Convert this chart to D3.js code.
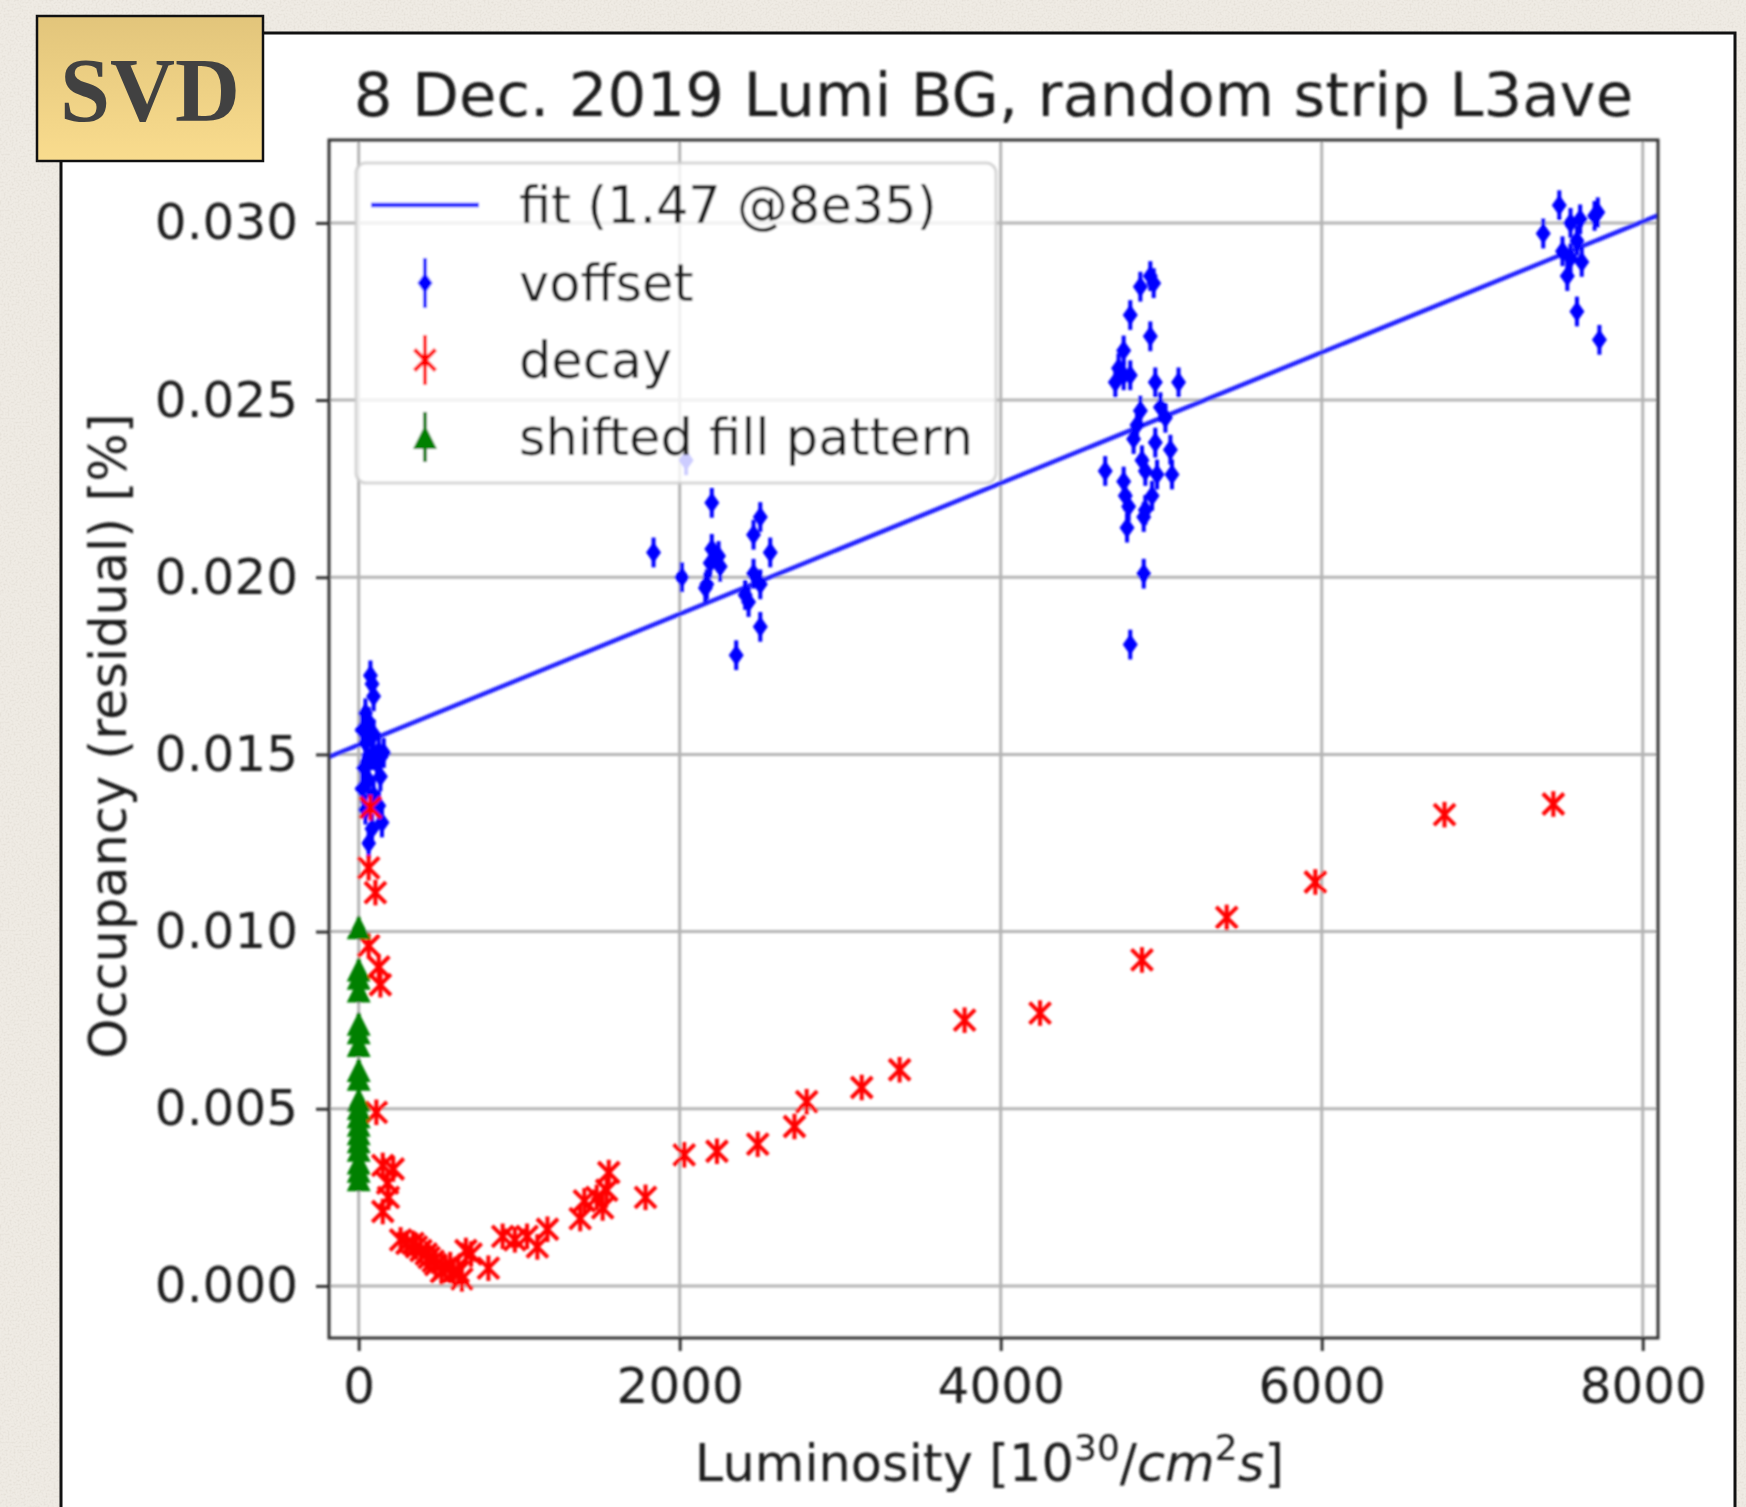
<!DOCTYPE html>
<html>
<head>
<meta charset="utf-8">
<script src="https://cdn.jsdelivr.net/npm/d3@7"></script>
<style>
  html, body { margin: 0; padding: 0; background: #efebe4; }
  svg { display: block; }
</style>
</head>
<body>
<svg id="slide" width="1746" height="1507"></svg>
<script>
// ---- axis setup ----
const xTicks = [0, 2000, 4000, 6000, 8000];
const yTicks = [0.000, 0.005, 0.010, 0.015, 0.020, 0.025, 0.030];
const xDomain = [-185, 8095];
const yDomain = [-0.00147, 0.03234];

// ---- linear fit of the voffset series ----
const fitIntercept = 0.01527;
const fitSlope = 1.846e-6;
const fitLabel = "fit (1.47 @8e35)";

// ---- voffset (blue) ----
const voffsetLumi = [
  73, 83, 93, 42, 62, 21, 93, 42, 156, 83, 114, 31, 135, 62, 21, 93, 125, 42, 145, 83, 62, 125, 52,
  1837, 2013, 2040, 2200, 2200, 2242, 2190, 2252, 2169, 2160, 2502, 2460, 2564, 2460, 2502, 2408, 2429, 2502, 2352,
  4870, 4932, 4953, 4807, 4932, 4766, 4734, 4766, 4807, 4714, 4963, 5108, 4870, 4995, 5026, 4849, 4828, 4963,
  5057, 4651, 4880, 4901, 4974, 5067, 4766, 4776, 4943, 4797, 4901, 4787, 4891, 4891, 4807,
  7380, 7480, 7550, 7610, 7700, 7720, 7590, 7550, 7620, 7530, 7590, 7730, 7500
];
const voffsetOcc = [
  0.01723, 0.01699, 0.01664, 0.01616, 0.01592, 0.01569, 0.01557, 0.01533, 0.01504, 0.01498, 0.01474, 0.01462,
  0.01438, 0.01427, 0.01403, 0.01385, 0.01355, 0.01344, 0.01308, 0.01290, 0.01249, 0.01509, 0.01480,
  0.0207, 0.0200, 0.0233, 0.0221, 0.0208, 0.0206, 0.0204, 0.0203, 0.0198, 0.0197, 0.0217, 0.0212, 0.0207,
  0.0201, 0.0198, 0.0195, 0.0193, 0.0186, 0.0178,
  0.0282, 0.0285, 0.0283, 0.0274, 0.0268, 0.0264, 0.0259, 0.0257, 0.0257, 0.0255, 0.0255, 0.0255, 0.0247,
  0.0248, 0.0245, 0.0243, 0.0239, 0.0238, 0.0236, 0.0230, 0.0233, 0.0230, 0.0229, 0.0229, 0.0227, 0.0223,
  0.0223, 0.0220, 0.0219, 0.0214, 0.0217, 0.0201, 0.0181,
  0.0297, 0.0305, 0.0300, 0.0301, 0.0302, 0.0303, 0.0295, 0.0290, 0.0289, 0.0285, 0.0275, 0.0267, 0.0292
];
const voffsetErr = 0.00042;

// ---- decay (red) ----
const decayLumi = [
  73, 62, 104, 62, 125, 135, 110, 150, 215, 180, 185, 150,
  261, 300, 338, 360, 388, 420, 439, 464, 480, 515, 541, 570, 592, 620, 643, 668, 700, 808,
  897, 973, 1049, 1113, 1176, 1380, 1406, 1483, 1520, 1545, 1558, 1787,
  2028, 2232, 2486, 2715, 2791, 3134, 3370, 3775, 4245, 4880, 5408, 5960, 6765, 7443
];
const decayOcc = [
  0.0135, 0.0118, 0.0111, 0.0096, 0.0090, 0.0085, 0.0049, 0.0034, 0.0033, 0.0029, 0.0025, 0.0021,
  0.0013, 0.0012, 0.0012, 0.0011, 0.0010, 0.0009, 0.0008, 0.0007, 0.0006, 0.0004, 0.0005, 0.0006, 0.0004,
  0.0004, 0.0002, 0.0010, 0.0009, 0.0005,
  0.0014, 0.0013, 0.0014, 0.0011, 0.0016, 0.0019, 0.0024, 0.0025, 0.0022, 0.0027, 0.0032, 0.0025,
  0.0037, 0.0038, 0.0040, 0.0045, 0.0052, 0.0056, 0.0061, 0.0075, 0.0077, 0.0092, 0.0104, 0.0114, 0.0133, 0.0136
];
const decayErr = 0.00036;

// ---- shifted fill pattern (green) ----
const fillLumi = [0, 0, 0, 0, 0, 0, 0, 0, 0, 0, 0, 0, 0, 0, 0, 0, 0, 0, 0];
const fillOcc = [
  0.01012, 0.00893, 0.00870, 0.00834, 0.00740, 0.00716, 0.00680, 0.00609, 0.00585, 0.00526,
  0.00502, 0.00479, 0.00455, 0.00431, 0.00408, 0.00384, 0.00348, 0.00325, 0.00301
];
const fillErr = 0.0003;

const seriesNames = ["voffset", "decay", "shifted fill pattern"];

// ---- page ----
const W = 1746, H = 1507;
const svg = d3.select("#slide");
const defs = svg.append("defs");

// paper texture for the slide background
const paper = defs.append("filter").attr("id", "paper").attr("x", 0).attr("y", 0)
  .attr("width", "100%").attr("height", "100%");
paper.append("feTurbulence").attr("type", "fractalNoise").attr("baseFrequency", 0.5)
  .attr("numOctaves", 3).attr("seed", 7).attr("result", "noise");
paper.append("feColorMatrix").attr("type", "matrix")
  .attr("values", "0 0 0 0 0.45  0 0 0 0 0.40  0 0 0 0 0.33  0 0 0 -1.6 0.9");

// slight softening of the plot graphics
const soft = defs.append("filter").attr("id", "soft");
soft.append("feGaussianBlur").attr("stdDeviation", 0.8);

const badge = defs.append("linearGradient").attr("id", "badge")
  .attr("x1", 0).attr("y1", 0).attr("x2", 0).attr("y2", 1);
badge.append("stop").attr("offset", "0%").attr("stop-color", "#e2c57b");
badge.append("stop").attr("offset", "100%").attr("stop-color", "#f9dc8e");

svg.append("rect").attr("width", W).attr("height", H).attr("fill", "#efebe4");
svg.append("rect").attr("width", W).attr("height", H).attr("filter", "url(#paper)").attr("opacity", 0.25);

// white card holding the plot
svg.append("rect").attr("x", 61).attr("y", 33).attr("width", 1674).attr("height", 1520)
  .attr("fill", "#ffffff").attr("stroke", "#111").attr("stroke-width", 3);

// ---- plot area ----
const plot = { left: 329, right: 1658, top: 140, bottom: 1338 };
const x = d3.scaleLinear().domain(xDomain).range([plot.left, plot.right]);
const y = d3.scaleLinear().domain(yDomain).range([plot.bottom, plot.top]);

const FONT = "'DejaVu Sans', sans-serif";
const g = svg.append("g").attr("filter", "url(#soft)");

// grid
g.append("g").selectAll("line").data(xTicks).join("line")
  .attr("x1", d => x(d)).attr("x2", d => x(d)).attr("y1", plot.top).attr("y2", plot.bottom)
  .attr("stroke", "#b4b4b4").attr("stroke-width", 3);
g.append("g").selectAll("line").data(yTicks).join("line")
  .attr("y1", d => y(d)).attr("y2", d => y(d)).attr("x1", plot.left).attr("x2", plot.right)
  .attr("stroke", "#b4b4b4").attr("stroke-width", 3);

// fit line across the full x range
const fitLine = d3.line().x(d => x(d)).y(d => y(fitIntercept + fitSlope * d));
const clip = defs.append("clipPath").attr("id", "plotclip");
clip.append("rect").attr("x", plot.left).attr("y", plot.top)
  .attr("width", plot.right - plot.left).attr("height", plot.bottom - plot.top);
const data = g.append("g").attr("clip-path", "url(#plotclip)");
data.append("path").attr("d", fitLine(xDomain)).attr("fill", "none")
  .attr("stroke", "#2424ff").attr("stroke-width", 4.5);

// marker helpers
const BLUE = "#0000ff", RED = "#ff0000", GREEN = "#008000";
function errorBars(sel, xs, ys, err, color) {
  sel.selectAll(null).data(d3.range(xs.length)).join("line")
    .attr("x1", i => x(xs[i])).attr("x2", i => x(xs[i]))
    .attr("y1", i => y(ys[i] - err)).attr("y2", i => y(ys[i] + err))
    .attr("stroke", color).attr("stroke-width", 4);
}
const diamond = (cx, cy) => `M${cx},${cy - 10.5}L${cx + 7.5},${cy}L${cx},${cy + 10.5}L${cx - 7.5},${cy}Z`;
const cross = (cx, cy) => `M${cx - 10.5},${cy - 10.5}L${cx + 10.5},${cy + 10.5}M${cx - 10.5},${cy + 10.5}L${cx + 10.5},${cy - 10.5}`;
const tri = (cx, cy) => `M${cx},${cy - 12}L${cx + 12},${cy + 12}L${cx - 12},${cy + 12}Z`;

// voffset
const gv = data.append("g");
errorBars(gv, voffsetLumi, voffsetOcc, voffsetErr, BLUE);
gv.selectAll("path").data(d3.range(voffsetLumi.length)).join("path")
  .attr("d", i => diamond(x(voffsetLumi[i]), y(voffsetOcc[i]))).attr("fill", BLUE);

// decay
const gd = data.append("g");
errorBars(gd, decayLumi, decayOcc, decayErr, RED);
gd.selectAll("path").data(d3.range(decayLumi.length)).join("path")
  .attr("d", i => cross(x(decayLumi[i]), y(decayOcc[i])))
  .attr("stroke", RED).attr("stroke-width", 4).attr("fill", "none");

// shifted fill pattern
const gf = data.append("g");
errorBars(gf, fillLumi, fillOcc, fillErr, GREEN);
gf.selectAll("path").data(d3.range(fillLumi.length)).join("path")
  .attr("d", i => tri(x(fillLumi[i]), y(fillOcc[i]))).attr("fill", GREEN);

// frame
g.append("rect").attr("x", plot.left).attr("y", plot.top)
  .attr("width", plot.right - plot.left).attr("height", plot.bottom - plot.top)
  .attr("fill", "none").attr("stroke", "#333").attr("stroke-width", 3);

// axes
const xAxis = g.append("g").attr("transform", `translate(0,${plot.bottom})`)
  .call(d3.axisBottom(x).tickValues(xTicks).tickFormat(d3.format("d")).tickSize(13).tickPadding(16));
const yAxis = g.append("g").attr("transform", `translate(${plot.left},0)`)
  .call(d3.axisLeft(y).tickValues(yTicks).tickFormat(d3.format(".3f")).tickSize(13).tickPadding(18));
[xAxis, yAxis].forEach(a => {
  a.select(".domain").remove();
  a.selectAll(".tick line").attr("stroke", "#333").attr("stroke-width", 3);
  a.selectAll(".tick text").attr("font-family", FONT).attr("font-size", 50).attr("fill", "#1a1a1a");
});

// title
g.append("text").attr("x", (plot.left + plot.right) / 2).attr("y", 116)
  .attr("text-anchor", "middle").attr("font-family", FONT).attr("font-size", 61).attr("fill", "#1a1a1a")
  .text("8 Dec. 2019 Lumi BG, random strip L3ave");

// x label with mathtext-style exponents
const xl = g.append("text").attr("x", (plot.left + plot.right) / 2 - 4).attr("y", 1481)
  .attr("text-anchor", "middle").attr("font-family", FONT).attr("font-size", 51).attr("fill", "#1a1a1a");
xl.append("tspan").text("Luminosity [10");
xl.append("tspan").attr("font-size", 36).attr("dy", -21).text("30");
xl.append("tspan").attr("dy", 21).text("/");
xl.append("tspan").attr("font-style", "italic").text("cm");
xl.append("tspan").attr("font-size", 36).attr("dy", -21).text("2");
xl.append("tspan").attr("dy", 21).attr("font-style", "italic").text("s");
xl.append("tspan").text("]");

// y label
g.append("text").attr("transform", `translate(126,${(plot.top + plot.bottom) / 2 - 3}) rotate(-90)`)
  .attr("text-anchor", "middle").attr("font-family", FONT).attr("font-size", 51).attr("fill", "#1a1a1a")
  .text("Occupancy (residual) [%]");

// legend
const lg = g.append("g");
lg.append("rect").attr("x", 356).attr("y", 163).attr("width", 640).attr("height", 320).attr("rx", 10)
  .attr("fill", "#ffffff").attr("fill-opacity", 0.8)
  .attr("stroke", "#cccccc").attr("stroke-opacity", 0.8).attr("stroke-width", 3);
const rows = [205, 283, 360, 437];
const hx = 425;
lg.append("line").attr("x1", 371).attr("x2", 479).attr("y1", rows[0]).attr("y2", rows[0])
  .attr("stroke", "#2424ff").attr("stroke-width", 4.5);
const handleColors = [BLUE, RED, GREEN];
[1, 2, 3].forEach((r, k) => {
  lg.append("line").attr("x1", hx).attr("x2", hx).attr("y1", rows[r] - 25).attr("y2", rows[r] + 25)
    .attr("stroke", handleColors[k]).attr("stroke-width", 4);
});
lg.append("path").attr("d", diamond(hx, rows[1])).attr("fill", BLUE);
lg.append("path").attr("d", cross(hx, rows[2])).attr("stroke", RED).attr("stroke-width", 4).attr("fill", "none");
lg.append("path").attr("d", tri(hx, rows[3])).attr("fill", GREEN);
[fitLabel, ...seriesNames].forEach((t, k) => {
  lg.append("text").attr("x", 519).attr("y", rows[k] + 18)
    .attr("font-family", FONT).attr("font-size", 51).attr("fill", "#1a1a1a").text(t);
});

// SVD badge
svg.append("rect").attr("x", 37).attr("y", 16).attr("width", 226).attr("height", 145)
  .attr("fill", "url(#badge)").attr("stroke", "#111").attr("stroke-width", 2.5);
svg.append("text").attr("x", 150).attr("y", 121).attr("text-anchor", "middle")
  .attr("font-family", "'Liberation Serif', 'DejaVu Serif', serif").attr("font-weight", "bold")
  .attr("font-size", 90).attr("fill", "#414141").text("SVD");
</script>
</body>
</html>
